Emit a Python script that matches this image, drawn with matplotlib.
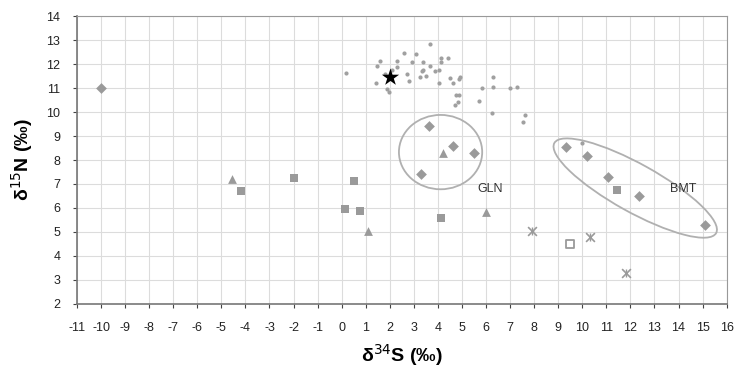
import matplotlib
matplotlib.use("Agg")
import matplotlib.pyplot as plt
from matplotlib.patches import Ellipse
from matplotlib import font_manager

plt.rcParams['font.family'] = ['Liberation Sans', 'DejaVu Sans']
plt.rcParams['axes.unicode_minus'] = False

names = {f.name for f in font_manager.fontManager.ttflist}
label_family = ['Liberation Sans Narrow', 'Liberation Sans', 'DejaVu Sans'] if 'Liberation Sans Narrow' in names else ['Liberation Sans', 'DejaVu Sans']

# Small dots (dense cluster)
dots_x = [3.69, 2.6, 3.08, 1.59, 1.48, 2.28, 2.32, 2.92, 3.40, 3.67, 4.11, 4.12, 4.43,
          0.18, 2.72, 2.80, 3.32, 3.39, 3.25, 3.50, 3.87, 4.05, 4.05, 4.5, 4.61, 4.91,
          4.88, 1.41, 1.87, 1.97, 4.77, 4.88, 4.84, 4.70, 5.85, 6.30, 6.30, 5.71, 6.26,
          6.99, 7.27, 7.62, 7.54, 10.0, 2.1, 1.8]
dots_y = [12.83, 12.45, 12.43, 12.12, 11.93, 12.12, 11.89, 12.07, 12.1, 11.92, 12.24, 12.1, 12.25,
          11.64, 11.57, 11.29, 11.7, 11.75, 11.47, 11.49, 11.72, 11.76, 11.2, 11.4, 11.22, 11.47,
          11.36, 11.2, 10.95, 10.85, 10.71, 10.71, 10.43, 10.28, 10.99, 11.47, 11.03, 10.47, 9.95,
          10.99, 11.04, 9.86, 9.57, 8.72, 11.75, 11.6]

# Diamonds
dia_x = [-10, 3.61, 4.63, 5.52, 3.30, 9.34, 10.19, 11.07, 12.35, 15.10]
dia_y = [11.0, 9.43, 8.6, 8.28, 7.42, 8.55, 8.18, 7.29, 6.5, 5.28]

# Filled squares
sq_x = [-4.17, -1.97, 0.52, 0.15, 0.77, 4.11, 11.45]
sq_y = [6.71, 7.26, 7.11, 5.96, 5.88, 5.6, 6.75]

# Triangles
tri_x = [-4.55, 1.10, 4.2, 5.98]
tri_y = [7.21, 5.03, 8.28, 5.82]

# Open square
osq_x = [9.48]
osq_y = [4.51]

# Asterisk-like (x with bar)
ast_x = [7.92, 10.34, 11.81]
ast_y = [5.04, 4.78, 3.28]

# Star
star_x = [2.0]
star_y = [11.47]

xticks = list(range(-11, 17))
yticks = list(range(2, 15))

gray = '#9a9a9a'

fig = plt.figure(figsize=(7.4, 3.67), dpi=100)
ax = fig.add_axes([0.104, 0.172, 0.878, 0.784])

ax.set_xlim(-11, 16)
ax.set_ylim(2, 14)
ax.set_xticks(xticks)
ax.set_yticks(yticks)
ax.grid(True, color='#dcdcdc', linewidth=0.8)
ax.set_axisbelow(True)

ax.scatter(dots_x, dots_y, s=9, marker='o', color='#a0a0a0', linewidths=0, zorder=3)
ax.scatter(dia_x, dia_y, s=30, marker='D', color=gray, linewidths=0, zorder=3)
ax.scatter(sq_x, sq_y, s=34, marker='s', color=gray, linewidths=0, zorder=3)
ax.scatter(tri_x, tri_y, s=40, marker='^', color=gray, linewidths=0, zorder=3)
ax.scatter(osq_x, osq_y, s=36, marker='s', facecolor='white', edgecolor=gray, linewidths=1.3, zorder=3)
ax.scatter(ast_x, ast_y, s=40, marker='x', color=gray, linewidths=1.2, zorder=3)
ax.scatter(ast_x, ast_y, s=40, marker='|', color=gray, linewidths=1.0, zorder=3)
ax.scatter(star_x, star_y, s=170, marker='*', color='black', linewidths=0, zorder=4)

ax.add_patch(Ellipse((4.11, 8.33), 3.46, 3.1, fill=False, edgecolor='#b0b0b0', linewidth=1.3, zorder=2))
ax.add_patch(Ellipse((12.2, 6.83), 7.7, 2.0, angle=-29.2, fill=False, edgecolor='#b0b0b0', linewidth=1.3, zorder=2))

ax.text(6.16, 6.79, 'GLN', fontsize=9, ha='center', va='center', color='#333333')
ax.text(14.2, 6.8, 'BMT', fontsize=9, ha='center', va='center', color='#333333')

for side in ['left', 'bottom']:
    ax.spines[side].set_color('#777777')
    ax.spines[side].set_linewidth(1.2)
for side in ['top', 'right']:
    ax.spines[side].set_color('#999999')
    ax.spines[side].set_linewidth(0.8)

ax.tick_params(axis='both', labelsize=9, colors='#444444', length=3, direction='out')
ax.tick_params(axis='x', pad=10)
ax.tick_params(axis='y', pad=9)
ax.tick_params(axis='both', labelcolor='#222222')
for lab in ax.get_xticklabels() + ax.get_yticklabels():
    lab.set_family(label_family)

ax.set_xlabel('δ$^{34}$S (‰)', fontsize=14, fontweight='bold', labelpad=6, family=label_family)
ax.set_ylabel('δ$^{15}$N (‰)', fontsize=14, fontweight='bold', labelpad=8, family=label_family)

fig.savefig('out.png', dpi=100)
